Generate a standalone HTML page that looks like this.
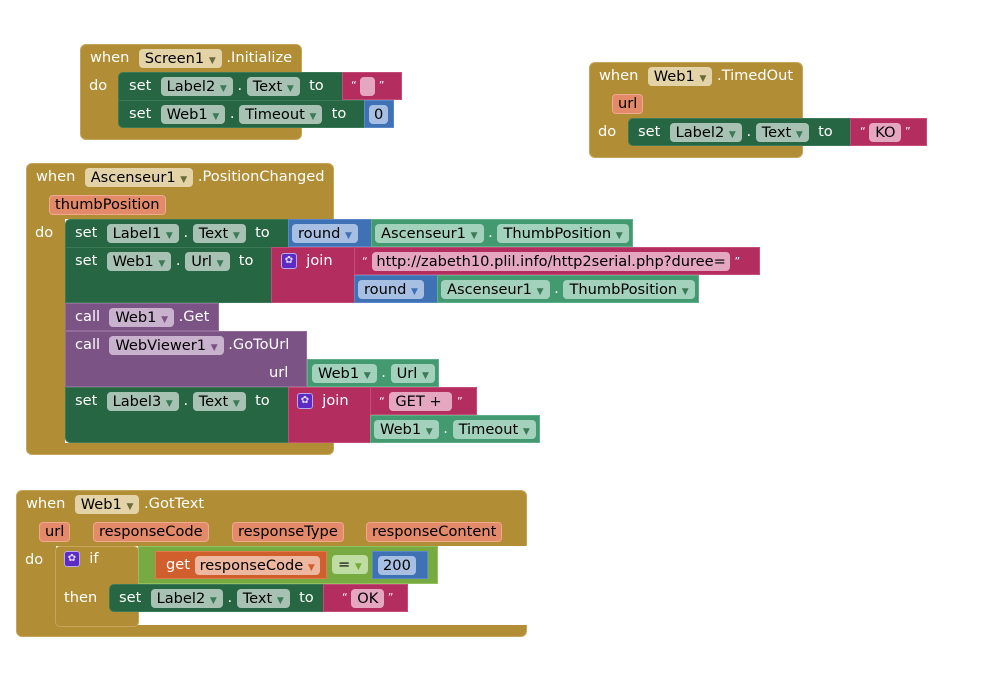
<!DOCTYPE html>
<html><head><meta charset="utf-8"><style>
body{margin:0;width:986px;height:679px;background:#fff;position:relative;overflow:hidden;font-family:"DejaVu Sans","Liberation Sans",sans-serif;font-size:14.6px;}
.b{position:absolute;box-sizing:border-box;}
.ev{background:#b18e35;border:1px solid #c4a55a;border-radius:6px;}
.gr{background:#266643;border:1px solid #3d7a58;}
.mg{background:#b32d5e;border:1px solid #c44d78;}
.bl{background:#3f71b5;border:1px solid #5a88c6;}
.tl{background:#439970;border:1px solid #5fae88;}
.pu{background:#7c5385;border:1px solid #926d9a;}
.lg{background:#77ab41;border:1px solid #91c05f;}
.or{background:#d05f2d;border:1px solid #e07b50;}
.r{position:absolute;white-space:nowrap;color:#fff;height:28px;line-height:28px;}
.f{display:inline-block;height:19px;line-height:19px;padding:0 6px;border-radius:4px;color:#000;vertical-align:middle;}
.fe{background:#e3d3a7;}
.fg{background:#a7c2b3;}
.ft{background:#a3d2bc;}
.fb{background:#a7bfe3;}
.fm{background:#e5a6c0;}
.fp{background:#c9b2cd;}
.fl{background:#bfdca2;}
.fo{background:#eeb7a0;}
.pa{display:inline-block;height:18px;line-height:18px;padding:0 5px;border-radius:4px;background:#e38a6b;border:1px solid #eea98e;color:#000;}
.a{font-size:9px;color:#6a6a3a;}
.fg .a,.ft .a{color:#3d7a58;}
.fb .a{color:#3f71b5;}
.fm .a{color:#b32d5e}
.fp .a{color:#7c5385}
.fo .a{color:#d05f2d}
.fl .a{color:#77ab41}
.gear{display:inline-block;width:14px;height:14px;background:#5b2bc4;border:1px solid #bba7ef;border-radius:3px;vertical-align:middle;color:#e0d6ff;font-size:10px;line-height:14px;text-align:center;}
</style></head><body>

<!-- Block 1 Screen1.Initialize -->
<div class="b ev" style="left:80px;top:44px;width:222px;height:96px;"></div>
<div class="b" style="left:302px;top:72px;width:10px;height:56px;background:#fff;"></div>
<div class="r" style="left:90px;top:44px;">when&nbsp; <span class="f fe">Screen1 <span class="a">▼</span></span> .Initialize</div>
<div class="r" style="left:89px;top:72px;">do</div>
<div class="b gr" style="left:118px;top:72px;width:226px;height:29px;border-radius:5px 0 0 0;"></div>
<div class="b mg" style="left:342px;top:72px;width:60px;height:28px;"></div>
<div class="b gr" style="left:118px;top:100px;width:248px;height:28px;border-radius:0 0 0 5px;"></div>
<div class="b bl" style="left:364px;top:100px;width:30px;height:28px;"></div>
<div class="r" style="left:129px;top:72px;">set&nbsp; <span class="f fg">Label2 <span class="a">▼</span></span> . <span class="f fg">Text <span class="a">▼</span></span>&nbsp; to</div>
<div class="r" style="left:351px;top:72px;font-size:11px;">“ <span class="f fm" style="width:5px;padding:0 5px;"></span> ”</div>
<div class="r" style="left:129px;top:100px;">set&nbsp; <span class="f fg">Web1 <span class="a">▼</span></span> . <span class="f fg">Timeout <span class="a">▼</span></span>&nbsp; to</div>
<div class="r" style="left:369px;top:100px;"><span class="f fb" style="padding:0 5px;">0</span></div>

<!-- Block 2 Web1.TimedOut -->
<div class="b ev" style="left:589px;top:62px;width:214px;height:96px;"></div>
<div class="r" style="left:599px;top:62px;">when&nbsp; <span class="f fe">Web1 <span class="a">▼</span></span> .TimedOut</div>
<div class="r" style="left:612px;top:90px;"><span class="pa">url</span></div>
<div class="r" style="left:598px;top:118px;">do</div>
<div class="b gr" style="left:628px;top:118px;width:224px;height:28px;border-radius:5px 0 0 5px;"></div>
<div class="b mg" style="left:850px;top:118px;width:77px;height:28px;"></div>
<div class="r" style="left:638px;top:118px;">set&nbsp; <span class="f fg">Label2 <span class="a">▼</span></span> . <span class="f fg">Text <span class="a">▼</span></span>&nbsp; to</div>
<div class="r" style="left:860px;top:118px;font-size:11px;">“ <span class="f fm" style="font-size:14.6px;">KO</span> ”</div>

<!-- Block 3 Ascenseur1.PositionChanged -->
<div class="b ev" style="left:26px;top:163px;width:308px;height:292px;"></div>
<div class="r" style="left:36px;top:163px;">when&nbsp; <span class="f fe">Ascenseur1 <span class="a">▼</span></span> .PositionChanged</div>
<div class="r" style="left:49px;top:191px;"><span class="pa">thumbPosition</span></div>
<div class="r" style="left:35px;top:219px;">do</div>
<div class="b" style="left:65px;top:219px;width:270px;height:224px;background:#fff;"></div>
<!-- row 1 -->
<div class="b gr" style="left:65px;top:219px;width:225px;height:29px;border-radius:5px 0 0 0;"></div>
<div class="b bl" style="left:288px;top:219px;width:84px;height:28px;"></div>
<div class="b tl" style="left:371px;top:219px;width:262px;height:28px;"></div>
<div class="r" style="left:75px;top:219px;">set&nbsp; <span class="f fg">Label1 <span class="a">▼</span></span> . <span class="f fg">Text <span class="a">▼</span></span>&nbsp; to</div>
<div class="r" style="left:292px;top:219px;"><span class="f fb">round <span class="a">▼</span></span></div>
<div class="r" style="left:375px;top:219px;"><span class="f ft">Ascenseur1 <span class="a">▼</span></span> . <span class="f ft">ThumbPosition <span class="a">▼</span></span></div>
<!-- row 2 -->
<div class="b gr" style="left:65px;top:247px;width:208px;height:56px;"></div>
<div class="b mg" style="left:271px;top:247px;width:84px;height:56px;"></div>
<div class="b mg" style="left:354px;top:247px;width:406px;height:28px;"></div>
<div class="b bl" style="left:354px;top:275px;width:84px;height:28px;"></div>
<div class="b tl" style="left:437px;top:275px;width:262px;height:28px;"></div>
<div class="r" style="left:75px;top:247px;">set&nbsp; <span class="f fg">Web1 <span class="a">▼</span></span> . <span class="f fg">Url <span class="a">▼</span></span>&nbsp; to</div>
<div class="r" style="left:281px;top:247px;"><span class="gear">✿</span>&nbsp; join</div>
<div class="r" style="left:362px;top:247px;"><span style="font-size:11px;">“</span> <span class="f fm" style="padding:0 4px;">http://zabeth10.plil.info/http2serial.php?duree=</span> <span style="font-size:11px;">”</span></div>
<div class="r" style="left:358px;top:275px;"><span class="f fb">round <span class="a">▼</span></span></div>
<div class="r" style="left:441px;top:275px;"><span class="f ft">Ascenseur1 <span class="a">▼</span></span> . <span class="f ft">ThumbPosition <span class="a">▼</span></span></div>
<!-- row 3 -->
<div class="b pu" style="left:65px;top:303px;width:154px;height:28px;"></div>
<div class="r" style="left:75px;top:303px;">call&nbsp; <span class="f fp">Web1 <span class="a">▼</span></span> .Get</div>
<!-- row 4 -->
<div class="b pu" style="left:65px;top:331px;width:242px;height:56px;"></div>
<div class="b tl" style="left:307px;top:359px;width:132px;height:28px;"></div>
<div class="r" style="left:75px;top:331px;">call&nbsp; <span class="f fp">WebViewer1 <span class="a">▼</span></span> .GoToUrl</div>
<div class="r" style="left:269px;top:359px;">url</div>
<div class="r" style="left:312px;top:359px;"><span class="f ft">Web1 <span class="a">▼</span></span> . <span class="f ft">Url <span class="a">▼</span></span></div>
<!-- row 5 -->
<div class="b gr" style="left:65px;top:387px;width:225px;height:56px;border-radius:0 0 0 5px;"></div>
<div class="b mg" style="left:288px;top:387px;width:83px;height:56px;"></div>
<div class="b mg" style="left:370px;top:387px;width:107px;height:28px;"></div>
<div class="b tl" style="left:370px;top:415px;width:170px;height:28px;"></div>
<div class="r" style="left:75px;top:387px;">set&nbsp; <span class="f fg">Label3 <span class="a">▼</span></span> . <span class="f fg">Text <span class="a">▼</span></span>&nbsp; to</div>
<div class="r" style="left:297px;top:387px;"><span class="gear">✿</span>&nbsp; join</div>
<div class="r" style="left:379px;top:387px;"><span style="font-size:11px;">“</span> <span class="f fm">GET +&nbsp;</span> <span style="font-size:11px;">”</span></div>
<div class="r" style="left:374px;top:415px;"><span class="f ft">Web1 <span class="a">▼</span></span> . <span class="f ft">Timeout <span class="a">▼</span></span></div>

<!-- Block 4 Web1.GotText -->
<div class="b ev" style="left:16px;top:490px;width:511px;height:147px;"></div>
<div class="b" style="left:56px;top:546px;width:472px;height:79px;background:#fff;"></div>
<div class="r" style="left:26px;top:490px;">when&nbsp; <span class="f fe">Web1 <span class="a">▼</span></span> .GotText</div>
<div class="r" style="left:39px;top:518px;"><span class="pa">url</span></div>
<div class="r" style="left:93px;top:518px;"><span class="pa">responseCode</span></div>
<div class="r" style="left:232px;top:518px;"><span class="pa">responseType</span></div>
<div class="r" style="left:366px;top:518px;"><span class="pa">responseContent</span></div>
<div class="r" style="left:25px;top:546px;">do</div>
<div class="b ev" style="left:55px;top:546px;width:84px;height:81px;border-radius:5px;"></div>
<div class="b" style="left:64px;top:584px;width:46px;height:36px;background:#b18e35;"></div>
<div class="r" style="left:64px;top:545px;"><span class="gear">✿</span>&nbsp; if</div>
<div class="r" style="left:64px;top:584px;">then</div>
<div class="b lg" style="left:138px;top:546px;width:300px;height:38px;"></div>
<div class="b or" style="left:155px;top:551px;width:172px;height:28px;"></div>
<div class="b bl" style="left:372px;top:551px;width:56px;height:28px;"></div>
<div class="r" style="left:166px;top:551px;">get <span class="f fo" style="padding:0 5px;">responseCode <span class="a">▼</span></span></div>
<div class="r" style="left:332px;top:550px;"><span class="f fl">= <span class="a">▼</span></span></div>
<div class="r" style="left:378px;top:551px;"><span class="f fb" style="padding:0 5px;">200</span></div>
<div class="b gr" style="left:109px;top:584px;width:216px;height:28px;border-radius:5px 0 0 5px;"></div>
<div class="b mg" style="left:323px;top:584px;width:85px;height:28px;"></div>
<div class="r" style="left:119px;top:584px;">set&nbsp; <span class="f fg">Label2 <span class="a">▼</span></span> . <span class="f fg">Text <span class="a">▼</span></span>&nbsp; to</div>
<div class="r" style="left:342px;top:584px;font-size:11px;">“ <span class="f fm" style="font-size:14.6px;">OK</span> ”</div>
</body></html>
